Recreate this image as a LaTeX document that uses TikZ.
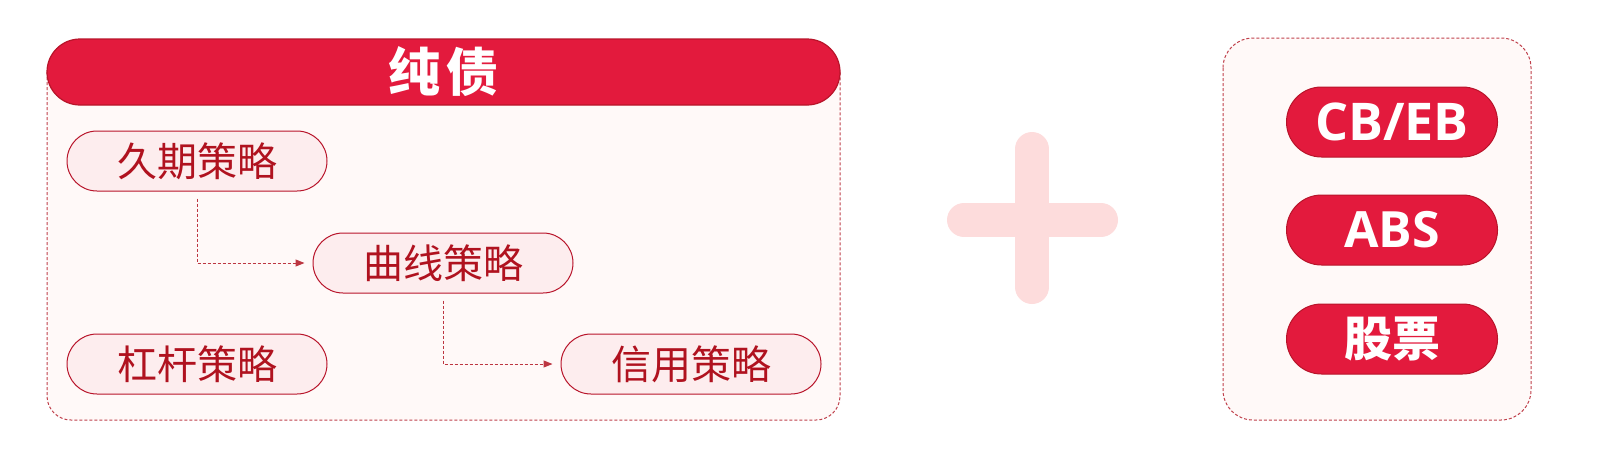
\documentclass[tikz,border=0pt]{standalone}
\usepackage{fontspec}
\setmainfont{Open Sans}
\newfontfamily\cjk{Noto Sans CJK SC}
\usetikzlibrary{arrows.meta}

\definecolor{hdred}{HTML}{E31A3D}
\definecolor{hdline}{HTML}{B8142A}
\definecolor{txtred}{HTML}{B0121F}
\definecolor{pillfill}{HTML}{FDEDEE}
\definecolor{boxfill}{HTML}{FFF9F8}
\definecolor{plusfill}{HTML}{FDDCDC}

\tikzset{
  outerbox/.style={draw=txtred!80, fill=boxfill, line width=0.5pt, dash pattern=on 1.5pt off 1pt},
  header/.style={draw=hdline, fill=hdred, line width=0.6pt, rounded corners=16.5pt,
    minimum width=396.5pt, minimum height=33pt, text=white, font=\cjk\bfseries\fontsize{26}{30}\selectfont},
  pill/.style={draw=hdline, fill=pillfill, line width=0.5pt, rounded corners=15pt,
    minimum width=130pt, minimum height=30pt, text=txtred, font=\cjk\fontsize{20}{24}\selectfont},
  redpill/.style={draw=hdline, fill=hdred, line width=0.5pt, rounded corners=17.5pt,
    minimum width=105.5pt, minimum height=35pt, text=white, font=\bfseries\fontsize{26}{30}\selectfont},
  link/.style={draw=txtred!85, line width=0.5pt, dash pattern=on 1.5pt off 1pt,
    -{Triangle[length=4.5pt,width=3.5pt]}, shorten <=3.5pt, shorten >=4pt}
}

\begin{document}
\begin{tikzpicture}[x=0.5pt, y=-0.5pt]
  \useasboundingbox (0,0) rectangle (1604,467);

  % left panel
  \path[outerbox, rounded corners=12pt] (47,72) -- (47,420) -- (840,420) -- (840,72);
  \node[header] (chunzhai) at (443.5,72) {纯\hspace{3pt}债};

  % strategies
  \node[pill] (jiuqi) at (197,161) {久期策略};
  \node[pill] (quxian) at (443,263) {曲线策略};
  \node[pill] (ganggan) at (197,364) {杠杆策略};
  \node[pill] (xinyong) at (691,364) {信用策略};

  \draw[link] (jiuqi.south) |- (quxian.west);
  \draw[link] (quxian.south) |- (xinyong.west);

  % plus sign
  \draw[plusfill, line width=17pt, line cap=round] (1032,149) -- (1032,287);
  \draw[plusfill, line width=17pt, line cap=round] (964,220) -- (1101,220);

  % right panel
  \draw[outerbox, rounded corners=15pt] (1223,38) rectangle (1531,420);
  \node[redpill] (cbeb) at (1392,122) {CB/EB};
  \node[redpill, font=\bfseries\fontsize{25}{29}\selectfont] (abs) at (1392,230) {ABS};
  \node[redpill, font=\cjk\bfseries\fontsize{24}{28}\selectfont] (gupiao) at (1392,339) {股票};
\end{tikzpicture}
\end{document}
